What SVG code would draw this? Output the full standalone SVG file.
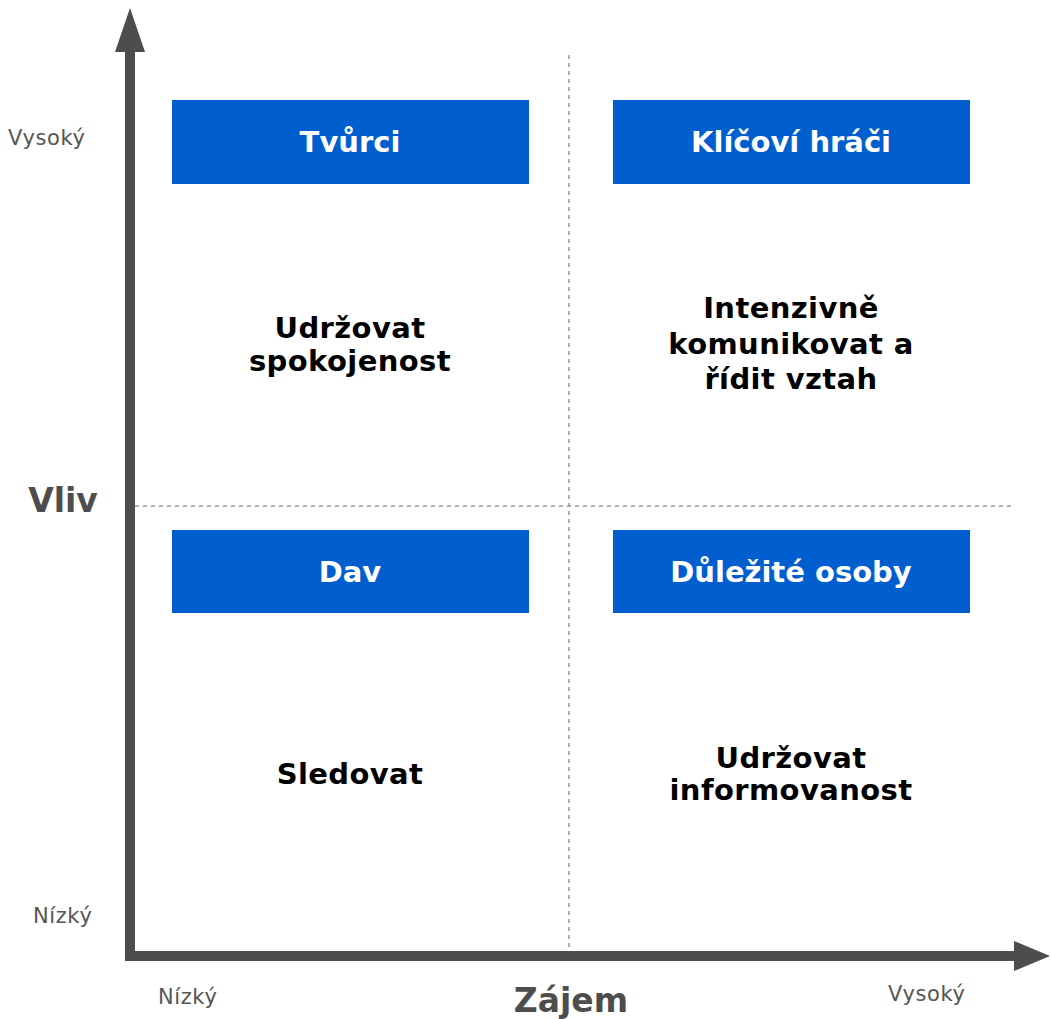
<svg xmlns="http://www.w3.org/2000/svg" width="1051" height="1019" viewBox="0 0 1051 1019">
  <style>
    .box { fill: #005ecf; }
    .box-label { font-family: "DejaVu Sans", Verdana, sans-serif; font-weight: bold; font-size: 29px; fill: #ffffff; text-anchor: middle; }
    .note { font-family: "DejaVu Sans", Verdana, sans-serif; font-weight: bold; font-size: 29px; letter-spacing: 0.4px; fill: #000000; text-anchor: middle; }
    .tick { font-family: "DejaVu Sans", Verdana, sans-serif; font-size: 21px; letter-spacing: 0.6px; fill: #555555; }
    .axis-title { font-family: "DejaVu Sans", Verdana, sans-serif; font-weight: bold; font-size: 33px; fill: #4d4d4d; text-anchor: middle; }
    .axis { stroke: #4d4d4d; stroke-width: 10; fill: none; }
    .grid { stroke: #999999; stroke-width: 1.5; stroke-dasharray: 4 4; fill: none; }
  </style>
  <rect width="1051" height="1019" fill="#ffffff"/>

  <!-- quadrant dividers -->
  <g id="dividers">
    <line class="grid" x1="569" y1="55" x2="569" y2="951"/>
    <line class="grid" x1="135" y1="506" x2="1015" y2="506"/>
  </g>

  <!-- axes -->
  <g id="connectors">
    <polyline class="axis" points="130,50 130,956 1016,956"/>
    <polygon points="130,8 145,52 115,52" fill="#4d4d4d"/>
    <polygon points="1050,956 1014,941 1014,971" fill="#4d4d4d"/>
  </g>

  <!-- axis labels -->
  <g id="axis-labels">
    <text class="tick" x="8" y="145">Vysoký</text>
    <text class="tick" x="33" y="923">Nízký</text>
    <text class="axis-title" x="63" y="512">Vliv</text>
    <text class="tick" x="158" y="1004">Nízký</text>
    <text class="axis-title" x="571" y="1012">Zájem</text>
    <text class="tick" x="888" y="1001">Vysoký</text>
  </g>

  <g id="tvurci">
    <rect class="box" x="172" y="100" width="357" height="84"/>
    <text class="box-label" x="350" y="152">Tvůrci</text>
  </g>
  <g id="klicovi-hraci">
    <rect class="box" x="613" y="100" width="357" height="84"/>
    <text class="box-label" x="791" y="152">Klíčoví hráči</text>
  </g>
  <g id="dav">
    <rect class="box" x="172" y="530" width="357" height="83"/>
    <text class="box-label" x="350" y="582">Dav</text>
  </g>
  <g id="dulezite-osoby">
    <rect class="box" x="613" y="530" width="357" height="83"/>
    <text class="box-label" x="791" y="582">Důležité osoby</text>
  </g>

  <g id="udrzovat-spokojenost">
    <text class="note" x="350" y="338">Udržovat</text>
    <text class="note" x="350" y="371">spokojenost</text>
  </g>
  <g id="intenzivne-komunikovat">
    <text class="note" x="791" y="318">Intenzivně</text>
    <text class="note" x="791" y="354">komunikovat a</text>
    <text class="note" x="791" y="389">řídit vztah</text>
  </g>
  <g id="sledovat">
    <text class="note" x="350" y="784">Sledovat</text>
  </g>
  <g id="udrzovat-informovanost">
    <text class="note" x="791" y="768">Udržovat</text>
    <text class="note" x="791" y="800">informovanost</text>
  </g>
</svg>
